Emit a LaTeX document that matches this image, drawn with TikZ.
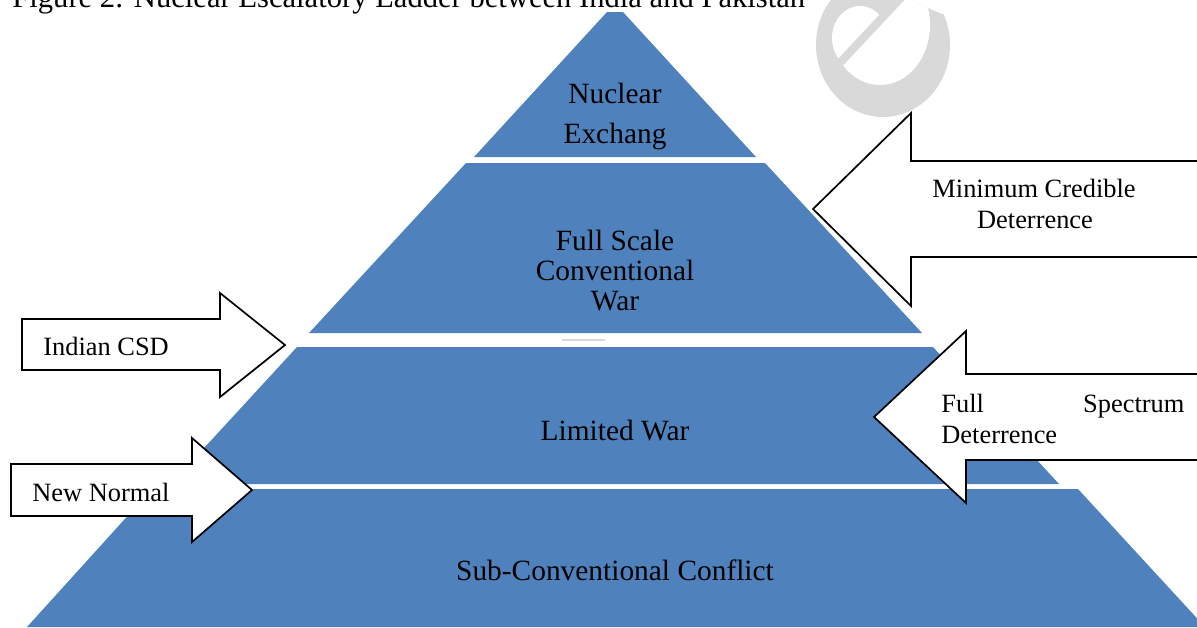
\documentclass[tikz,border=0pt]{standalone}
\usepackage{fontspec}
\setmainfont{Liberation Serif}
\definecolor{tierblue}{RGB}{79,129,189}
\definecolor{wmgray}{RGB}{217,217,217}
\begin{document}
\begin{tikzpicture}[x=0.5pt,y=-0.5pt,
  tier/.style={fill=tierblue, draw=none},
  callout/.style={draw=black, fill=white, line width=0.85pt, line join=miter},
  ptext/.style={font=\fontsize{14.7}{17}\selectfont, inner sep=0, anchor=base},
  atext/.style={font=\fontsize{13.2}{15}\selectfont, inner sep=0, anchor=base},
  wm/.style={fill=wmgray, draw=none}]
\useasboundingbox (0,0) rectangle (1197,627);
\clip (0,0) rectangle (1197,627);

% watermark "e"
\begin{scope}
  \clip (700,-5) -- (897,-5) -- (942,14) -- (1000,14) -- (1000,140) -- (700,140) -- cycle;
  \fill[wm] (883,45) ellipse [x radius=67, y radius=72];
  \begin{scope}
    \clip (776,137) -- (962,-61) -- (1100,50) -- (950,250) -- cycle;
    \fill[white] (880,25) ellipse [x radius=50, y radius=60];
  \end{scope}
  \begin{scope}
    \clip (770,131) -- (956,-67) -- (750,-150) -- (650,50) -- cycle;
    \fill[white] (860,38) ellipse [x radius=28, y radius=32];
  \end{scope}
\end{scope}

% title (cut at the top)
\node[anchor=base west, inner sep=0, font=\fontsize{15.3}{18}\selectfont] (title) at (12,7)
  {Figure 2: Nuclear Escalatory Ladder between India and Pakistan};

% pyramid tiers
\fill[tier] (607,12) -- (623,12) -- (756,157) -- (474,157) -- cycle;
\fill[tier] (466,163) -- (765,163) -- (922,333) -- (309,333) -- cycle;
\fill[tier] (297,347) -- (933,347) -- (1059,484) -- (171,484) -- cycle;
\fill[tier] (152,489) -- (1078,489) -- (1205,627) -- (27,627) -- cycle;
\draw[wmgray, line width=0.8pt] (562,340) -- (605,340);

% tier texts
\node[ptext] (t1a) at (615,103) {Nuclear};
\node[ptext] (t1b) at (615,143) {Exchang};
\node[ptext] (t2a) at (615,250) {Full Scale};
\node[ptext] (t2b) at (615,280) {Conventional};
\node[ptext] (t2c) at (615,310) {War};
\node[ptext] (t3) at (615,440) {Limited War};
\node[ptext] (t4) at (615,580) {Sub-Conventional Conflict};

% block arrows
\draw[callout] (22,319) -- (220,319) -- (220,293) -- (285,345) -- (220,397) -- (220,370) -- (22,370) -- cycle;
\draw[callout] (11,464) -- (192,464) -- (192,438) -- (252,490) -- (192,542) -- (192,516) -- (11,516) -- cycle;
\draw[callout] (1215,161) -- (911,161) -- (911,113) -- (813,209) -- (911,306) -- (911,257) -- (1215,257) -- cycle;
\draw[callout] (1215,374) -- (966,374) -- (966,331) -- (874,417) -- (966,503) -- (966,460) -- (1215,460) -- cycle;

% arrow texts
\node[atext, anchor=base west] (csd) at (43,355) {Indian CSD};
\node[atext, anchor=base west] (nn) at (32,501) {New Normal};
\node[atext] (mcd1) at (1034,197) {Minimum Credible};
\node[atext] (mcd2) at (1035,228) {Deterrence};
\node[atext, anchor=base west] (fsd1) at (941,412) {\makebox[121.5pt][l]{Full\hfill Spectrum}};
\node[atext, anchor=base west] (fsd2) at (941,443) {Deterrence};
\end{tikzpicture}
\end{document}
